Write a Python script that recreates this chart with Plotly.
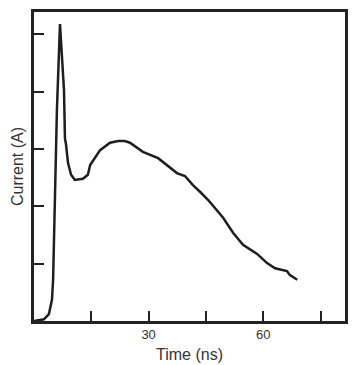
import plotly.graph_objects as go

time_ns = [0, 2.6, 3.9, 4.7, 5.0, 5.5, 6.0, 6.8, 7.3, 7.85, 8.1, 8.4, 8.9, 9.7, 10.7,
           12.8, 14.1, 14.7, 17.3, 19.9, 22.0, 23.8, 25.1, 28.5, 32.5, 34.8, 37.4,
           39.5, 41.6, 43.5, 45.6, 49.5, 52.1, 54.7, 58.4, 61.0, 63.1, 66.2, 67.0, 68.9]
current_a = [0, 0.03, 0.12, 0.37, 0.72, 2.11, 3.68, 5.18, 4.55, 4.03, 3.19, 3.07, 2.76,
             2.55, 2.46, 2.48, 2.55, 2.72, 2.98, 3.11, 3.14, 3.14, 3.11, 2.95, 2.84,
             2.72, 2.58, 2.53, 2.37, 2.25, 2.11, 1.80, 1.54, 1.33, 1.17, 1.01, 0.92,
             0.87, 0.80, 0.72]

x_tickvals = [15, 30, 45, 60, 75]
x_ticktext = ["", "30", "", "60", ""]
y_tickvals = [1, 2, 3, 4, 5]

fig = go.Figure()
fig.add_trace(go.Scatter(x=time_ns, y=current_a, mode="lines",
                         line=dict(color="#1e1e1e", width=2.5), showlegend=False))

axis_common = dict(showline=True, linecolor="#222222", linewidth=2.5, mirror=True,
                   ticks="inside", ticklen=10, tickwidth=2, tickcolor="#222222",
                   showgrid=False, zeroline=False, automargin=False)

fig.update_layout(
    width=364, height=365,
    margin=dict(l=34, r=19, t=12, b=44),
    paper_bgcolor="white", plot_bgcolor="white",
    font=dict(family="Liberation Sans, Arial, sans-serif", size=13, color="#333333"),
    xaxis=dict(range=[0, 81.4], tickvals=x_tickvals, ticktext=x_ticktext,
               tickfont=dict(size=13),
               title=dict(text="Time (ns)", standoff=8), **axis_common),
    yaxis=dict(range=[0, 5.39], tickvals=y_tickvals, ticktext=[""] * 5,
               title=dict(text="Current (A)", standoff=2), **axis_common),
)

fig.write_html("out.html", config={"displayModeBar": False},
               post_script="document.body.style.margin='0';document.body.style.padding='0';")
